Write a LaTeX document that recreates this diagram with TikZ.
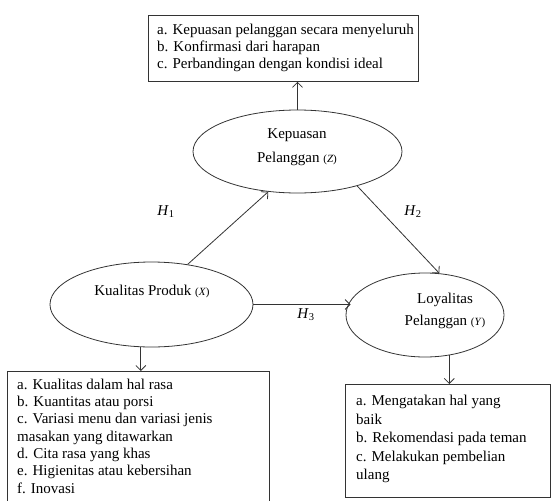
\documentclass[tikz,border=0pt]{standalone}
\usepackage{fontspec}
\setmainfont{Liberation Serif}
\usetikzlibrary{shapes.geometric,arrows.meta}
\newcommand{\smvar}[1]{{\fontsize{11}{13}\selectfont(\textit{#1})}}
\begin{document}
\begin{tikzpicture}[x=1pt,y=-1pt,
  line/.style={draw=black!80, line width=0.8pt},
  arr/.style={line, -{Straight Barb[length=5pt,width=10pt,line width=0.8pt]}},
  ell/.style={ellipse, line, inner sep=0pt},
  boxnode/.style={rectangle, line, anchor=north west, inner sep=0pt},
  txt/.style={inner sep=0pt, anchor=base west, font=\fontsize{15}{17}\selectfont},
  ctxt/.style={inner sep=0pt, anchor=base, font=\fontsize{15}{17}\selectfont},
  lbl/.style={inner sep=0pt, font=\fontsize{15}{17}\selectfont}]
\useasboundingbox (0,0) rectangle (552,501);

% ellipses
\node[ell, minimum width=209pt, minimum height=83pt] (Z) at (297.5,151.5) {};
\node[ell, minimum width=203pt, minimum height=85pt] (X) at (151.5,304.5) {};
\node[ell, minimum width=158pt, minimum height=84pt] (Y) at (425,315) {};

\node[ctxt] (z1) at (297,138.3) {Kepuasan};
\node[ctxt] (z2) at (297,162.3) {Pelanggan \smvar{Z}};
\node[ctxt] (x1) at (152,295) {Kualitas Produk \smvar{X}};
\node[ctxt] (y1) at (445,303.5) {Loyalitas};
\node[ctxt] (y2) at (445,325.5) {Pelanggan \smvar{Y}};

% boxes
\node[boxnode, minimum width=270pt, minimum height=66pt] (T) at (148,15) {};
\node[boxnode, minimum width=262pt, minimum height=145pt] (BX) at (7,371) {};
\node[boxnode, minimum width=205pt, minimum height=113pt] (BY) at (345,384) {};

\foreach \s [count=\i] in {a. Kepuasan pelanggan secara menyeluruh,
  b. Konfirmasi dari harapan, c. Perbandingan dengan kondisi ideal}
  \node[txt] (t\i) at (157,{34.5+17*(\i-1)}) {\s};

\foreach \s [count=\i] in {a. Kualitas dalam hal rasa, b. Kuantitas atau porsi,
  c. Variasi menu dan variasi jenis, masakan yang ditawarkan,
  d. Cita rasa yang khas, e. Higienitas atau kebersihan, f. Inovasi}
  \node[txt] (bx\i) at (17,{389.3+17.33*(\i-1)}) {\s};

\foreach \s [count=\i] in {a. Mengatakan hal yang, baik,
  b. Rekomendasi pada teman, c. Melakukan pembelian, ulang}
  \node[txt] (by\i) at (356,{405.5+18.5*(\i-1)}) {\s};

% connectors
\draw[arr] (Z.north) -- (Z.north |- T.south);
\draw[arr] (X.48) -- (Z.234);
\draw[arr] (Z.-30) -- (Y.71);
\draw[arr] (X.east) -- ([xshift=5pt]Y.west |- X.east);
\draw[arr] (X.-104) -- (X.-104 |- BX.north);
\draw[arr] (Y.-59) -- (Y.-59 |- BY.north);

% labels
\node[lbl] (h1) at (166,212) {\textit{H}\textsubscript{1}};
\node[lbl] (h2) at (413,212) {\textit{H}\textsubscript{2}};
\node[lbl] (h3) at (306,315) {\textit{H}\textsubscript{3}};
\end{tikzpicture}
\end{document}
